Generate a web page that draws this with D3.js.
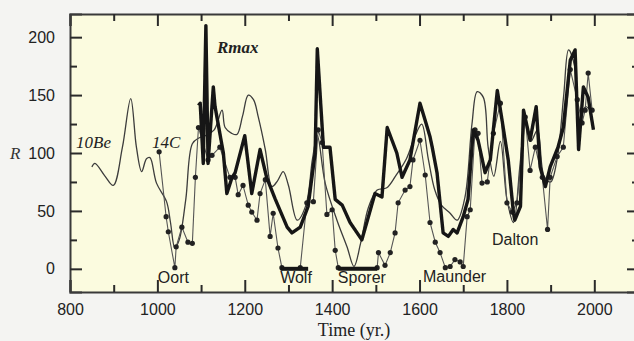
<!DOCTYPE html>
<html>
<head>
<meta charset="utf-8">
<script src="https://cdn.jsdelivr.net/npm/d3@7"></script>
<style>
  body { margin: 0; background: #f4f4f2; }
  svg { display: block; }
</style>
</head>
<body>
<div id="chart"></div>
<script>
// 10Be based reconstruction (thin line)
const be10Years = [850, 857, 880, 899, 920, 939, 952, 964, 975, 983, 998, 1021, 1030, 1040, 1050, 1065, 1080, 1095, 1110, 1130, 1148, 1155, 1170, 1182, 1195, 1208, 1220, 1231, 1247, 1262, 1275, 1288, 1300, 1320, 1340, 1355, 1366, 1384, 1411, 1434, 1450, 1465, 1483, 1503, 1525, 1545, 1570, 1590, 1605, 1620, 1635, 1650, 1670, 1686, 1704, 1720, 1732, 1746, 1757, 1770, 1785, 1800, 1815, 1830, 1842, 1855, 1870, 1885, 1900, 1915, 1930, 1941, 1955, 1965, 1980, 1995];
const be10Values = [88, 91, 80, 72, 105, 147, 105, 84, 95, 96, 74, 58, 40, 18, 25, 60, 108, 113, 115, 120, 137, 122, 117, 116, 132, 150, 146, 131, 103, 71, 76, 84, 72, 42, 55, 95, 115, 74, 42, 19, 2, 22, 53, 68, 70, 80, 95, 115, 125, 95, 68, 55, 48, 42, 62, 125, 153, 148, 105, 80, 110, 60, 40, 90, 130, 110, 120, 80, 75, 95, 150, 189, 175, 120, 140, 135];

// 14C based reconstruction (thin line with dots)
const c14Years = [1004, 1020, 1025, 1040, 1043, 1056, 1070, 1080, 1087, 1094, 1116, 1125, 1143, 1166, 1178, 1185, 1196, 1208, 1216, 1228, 1235, 1247, 1258, 1265, 1276, 1285, 1327, 1342, 1357, 1368, 1377, 1388, 1400, 1407, 1414, 1503, 1506, 1521, 1533, 1544, 1551, 1567, 1578, 1585, 1601, 1613, 1624, 1636, 1647, 1659, 1670, 1681, 1693, 1700, 1709, 1716, 1727, 1734, 1743, 1755, 1769, 1785, 1800, 1812, 1823, 1842, 1853, 1865, 1881, 1893, 1899, 1915, 1929, 1945, 1961, 1972, 1979, 1986, 1995];
const c14Values = [101, 45, 32, 1, 19, 36, 23, 22, 79, 122, 94, 98, 105, 79, 79, 64, 72, 55, 49, 42, 65, 77, 28, 48, 18, 1, 1, 57, 58, 120, 109, 47, 51, 16, 1, 1, 14, 3, 14, 31, 57, 68, 71, 94, 111, 81, 40, 23, 14, 1, 2, 8, 6, 2, 45, 51, 120, 117, 74, 75, 117, 143, 57, 49, 57, 131, 85, 105, 79, 34, 79, 97, 105, 172, 146, 126, 137, 169, 137];

// Rmax (thick line)
const rmaxYears = [1094, 1098, 1105, 1111, 1116, 1128, 1132, 1151, 1159, 1171, 1178, 1200, 1216, 1235, 1250, 1270, 1297, 1308, 1327, 1345, 1361, 1366, 1380, 1395, 1407, 1423, 1441, 1468, 1498, 1514, 1526, 1537, 1548, 1560, 1578, 1601, 1613, 1624, 1629, 1640, 1654, 1666, 1677, 1686, 1700, 1711, 1723, 1734, 1750, 1762, 1778, 1789, 1803, 1815, 1818, 1831, 1838, 1853, 1867, 1876, 1888, 1899, 1917, 1929, 1945, 1956, 1964, 1975, 1986, 1998];
const rmaxValues = [141, 143, 91, 210, 91, 157, 140, 100, 65, 79, 83, 115, 65, 103, 79, 60, 36, 31, 36, 54, 100, 190, 105, 105, 60, 55, 40, 25, 65, 62, 122, 111, 100, 79, 94, 143, 128, 114, 105, 83, 31, 28, 34, 31, 45, 60, 120, 111, 83, 94, 154, 128, 94, 48, 42, 54, 137, 111, 140, 88, 71, 88, 105, 122, 180, 189, 103, 157, 148, 120];

// grand minima
const minimaNames = ['Oort', 'Wolf', 'Sporer', 'Maunder', 'Dalton'];
const minimaLabelYears = [1001, 1281, 1413, 1608, 1766];
const minimaLabelValues = [-12, -12, -12, -11, 21];
const minimaBarStart = [1282, 1414];
const minimaBarEnd = [1345, 1503];

const yMajorTicks = [0, 50, 100, 150, 200];
const yMinorTicks = [25, 75, 125, 175];
const xMajorTicks = [800, 1000, 1200, 1400, 1600, 1800, 2000];
const xMinorTicks = [900, 1100, 1300, 1500, 1700, 1900];

const width = 634;
const height = 341;
const margin = { top: 14, right: -4, bottom: 49, left: 70 };
const plotW = width - margin.left - margin.right;
const plotH = height - margin.top - margin.bottom;

const x = d3.scaleLinear().domain([800, 2100]).range([0, plotW]);
const y = d3.scaleLinear().domain([-20, 220]).range([plotH, 0]);

const svg = d3.select('#chart').append('svg')
  .attr('width', width)
  .attr('height', height);

svg.append('rect')
  .attr('width', width)
  .attr('height', height)
  .attr('fill', '#f4f4f2');

const defs = svg.append('defs');
defs.append('filter').attr('id', 'soft')
  .append('feGaussianBlur').attr('stdDeviation', 0.35);

const g = svg.append('g')
  .attr('transform', `translate(${margin.left}, ${margin.top})`);

g.append('rect')
  .attr('width', plotW)
  .attr('height', plotH)
  .attr('fill', '#fbfbdf');

const sans = '"Liberation Sans", Arial, sans-serif';
const serif = '"Liberation Serif", "DejaVu Serif", serif';

function drawAxis() {
  const bottom = g.append('g')
    .attr('transform', `translate(0, ${plotH})`)
    .call(d3.axisBottom(x).tickValues(xMajorTicks).tickSize(-12).tickPadding(12).tickFormat(d3.format('d')));
  bottom.append('g')
    .call(d3.axisBottom(x).tickValues(xMinorTicks).tickSize(-7).tickFormat(''))
    .select('.domain').remove();

  const top = g.append('g')
    .call(d3.axisTop(x).tickValues(xMajorTicks).tickSize(-12).tickFormat(''));
  top.append('g')
    .call(d3.axisTop(x).tickValues(xMinorTicks).tickSize(-7).tickFormat(''))
    .select('.domain').remove();

  const left = g.append('g')
    .call(d3.axisLeft(y).tickValues(yMajorTicks).tickSize(-12).tickPadding(15));
  left.append('g')
    .call(d3.axisLeft(y).tickValues(yMinorTicks).tickSize(-7).tickFormat(''))
    .select('.domain').remove();

  const right = g.append('g')
    .attr('transform', `translate(${plotW}, 0)`)
    .call(d3.axisRight(y).tickValues(yMajorTicks).tickSize(-11).tickFormat(''));
  right.append('g')
    .call(d3.axisRight(y).tickValues(yMinorTicks).tickSize(-6).tickFormat(''))
    .select('.domain').remove();

  g.selectAll('.domain').attr('stroke', '#3a3a3a').attr('stroke-width', 2);
  g.selectAll('.tick line').attr('stroke', '#2a2a2a').attr('stroke-width', 2);
  g.selectAll('.tick text')
    .attr('font-family', sans)
    .attr('font-size', '16px')
    .attr('fill', '#222');

  svg.append('text')
    .attr('x', 10)
    .attr('y', 159)
    .attr('font-family', serif)
    .attr('font-style', 'italic')
    .attr('font-size', '17px')
    .attr('fill', '#333')
    .text('R');

  svg.append('text')
    .attr('x', 354)
    .attr('y', 336)
    .attr('text-anchor', 'middle')
    .attr('font-family', serif)
    .attr('font-size', '18px')
    .attr('fill', '#222')
    .text('Time (yr.)');
}

function drawLines() {
  const line = d3.line()
    .x(function (d) { return x(d[0]); })
    .y(function (d) { return y(d[1]); });

  const lines = g.append('g').attr('filter', 'url(#soft)');

  const be10 = d3.zip(be10Years, be10Values);
  lines.append('path')
    .datum(be10)
    .attr('d', line.curve(d3.curveCatmullRom.alpha(0.5)))
    .attr('fill', 'none')
    .attr('stroke', '#3c3c3c')
    .attr('stroke-width', 1.3);

  const c14 = d3.zip(c14Years, c14Values);
  lines.append('path')
    .datum(c14)
    .attr('d', line.curve(d3.curveLinear))
    .attr('fill', 'none')
    .attr('stroke', '#555')
    .attr('stroke-width', 1.1);

  lines.selectAll('.dot')
    .data(c14)
    .enter().append('circle')
    .attr('class', 'dot')
    .attr('cx', function (d) { return x(d[0]); })
    .attr('cy', function (d) { return y(d[1]); })
    .attr('r', 2.6)
    .attr('fill', '#222');

  const rmax = d3.zip(rmaxYears, rmaxValues);
  lines.append('path')
    .datum(rmax)
    .attr('d', line.curve(d3.curveLinear))
    .attr('fill', 'none')
    .attr('stroke', '#151515')
    .attr('stroke-width', 3.4)
    .attr('stroke-linejoin', 'round');

  for (let i = 0; i < minimaBarStart.length; i++) {
    lines.append('line')
      .attr('x1', x(minimaBarStart[i]))
      .attr('x2', x(minimaBarEnd[i]))
      .attr('y1', y(0))
      .attr('y2', y(0))
      .attr('stroke', '#151515')
      .attr('stroke-width', 4);
  }
}

function drawLabels() {
  const labels = [
    { t: '10Be', x: 76, y: 148, w: 'normal' },
    { t: '14C', x: 152, y: 148, w: 'normal' },
    { t: 'Rmax', x: 217, y: 53, w: 'bold' }
  ];
  labels.forEach(function (l) {
    svg.append('text')
      .attr('x', l.x)
      .attr('y', l.y)
      .attr('font-family', serif)
      .attr('font-style', 'italic')
      .attr('font-weight', l.w)
      .attr('font-size', '17px')
      .attr('fill', '#222')
      .text(l.t);
  });

  for (let i = 0; i < minimaNames.length; i++) {
    g.append('text')
      .attr('x', x(minimaLabelYears[i]))
      .attr('y', y(minimaLabelValues[i]))
      .attr('font-family', sans)
      .attr('font-size', '16px')
      .attr('fill', '#222')
      .text(minimaNames[i]);
  }
}

drawAxis();
drawLines();
drawLabels();
</script>
</body>
</html>
